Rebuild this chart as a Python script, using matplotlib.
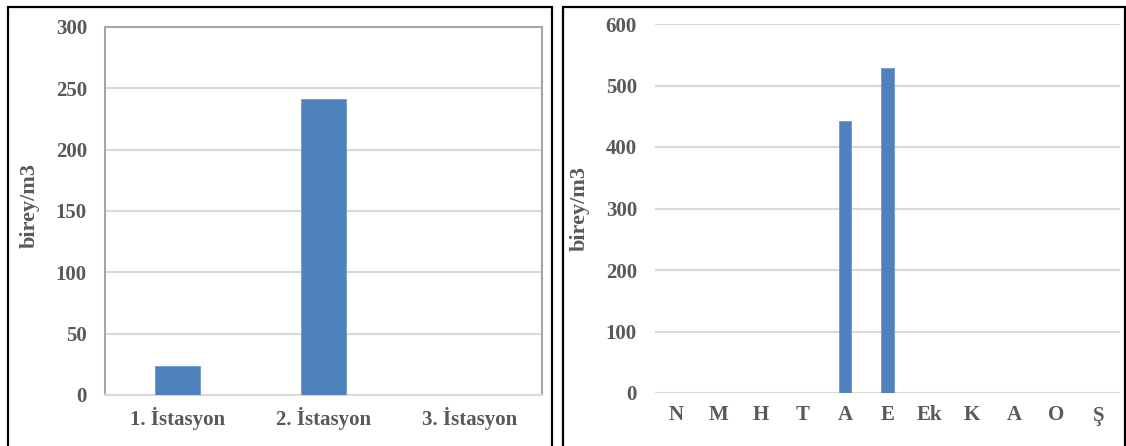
import matplotlib.pyplot as plt
from matplotlib.patches import Rectangle

# data
stations = ['1. İstasyon', '2. İstasyon', '3. İstasyon']
station_vals = [24, 241, 0]

groups = ['N', 'M', 'H', 'T', 'A', 'E', 'Ek', 'K', 'A', 'O', 'Ş']
group_vals = [0, 0, 0, 0, 442, 528, 0, 0, 0, 0, 0]

BAR = '#4F81BD'
TXT = '#595959'
GRID = '#D9D9D9'

plt.rcParams['font.family'] = ['Liberation Serif', 'DejaVu Serif']
plt.rcParams['font.weight'] = 'bold'

W, H = 1126, 446
fig = plt.figure(figsize=(W / 100, H / 100), dpi=100)


def px(x0, y0, x1, y1):
    # pixel box (top-left origin) -> figure fraction rect
    return [x0 / W, 1 - y1 / H, (x1 - x0) / W, (y1 - y0) / H]


def style(ax, ymax, step):
    ax.set_ylim(0, ymax)
    ax.set_yticks(range(0, ymax + 1, step))
    ax.yaxis.grid(True, color=GRID, lw=1.5)
    ax.set_axisbelow(True)
    ax.tick_params(length=0, labelsize=15, labelcolor=TXT)
    ax.tick_params(axis='x', pad=9)
    ax.tick_params(axis='y', pad=13)
    for lab in ax.get_xticklabels() + ax.get_yticklabels():
        lab.set_fontweight('bold')


# outer frames
fig.patches.append(Rectangle((8 / W, -0.1), 544 / W, 1.1 - 7 / H, transform=fig.transFigure,
                             fill=False, ec='black', lw=1.6))
fig.patches.append(Rectangle((563 / W, -0.1), 562 / W, 1.1 - 7 / H, transform=fig.transFigure,
                             fill=False, ec='black', lw=1.6))

# left chart
ax1 = fig.add_axes(px(105, 27, 542, 395))
x1 = range(len(stations))
ax1.bar(x1, station_vals, width=0.31, color=BAR, edgecolor='#6E9AD0', lw=0.6, zorder=3)
ax1.set_xlim(-0.5, len(stations) - 0.5)
ax1.set_xticks(list(x1))
ax1.set_xticklabels(stations)
style(ax1, 300, 50)
for s in ax1.spines.values():
    s.set_color('#A6A6A6')
    s.set_linewidth(1.5)
ax1.spines['bottom'].set_color(GRID)
ax1.set_ylabel('birey/m3', fontsize=16, fontweight='bold', color=TXT, va='center')
ax1.yaxis.set_label_coords((29.5 - 105) / 437, 0.515)

# right chart
ax2 = fig.add_axes(px(655, 24, 1120, 393))
x2 = range(len(groups))
ax2.bar(x2, group_vals, width=0.29, color=BAR, edgecolor='#6E9AD0', lw=0.6, zorder=3)
ax2.set_xlim(-0.5, len(groups) - 0.5)
ax2.set_xticks(list(x2))
ax2.set_xticklabels(groups)
style(ax2, 600, 100)
for s in ax2.spines.values():
    s.set_visible(False)
ax2.set_ylabel('birey/m3', fontsize=16, fontweight='bold', color=TXT, va='center')
ax2.yaxis.set_label_coords((580 - 655) / 465, 0.5)

fig.savefig('out.png', dpi=100)
